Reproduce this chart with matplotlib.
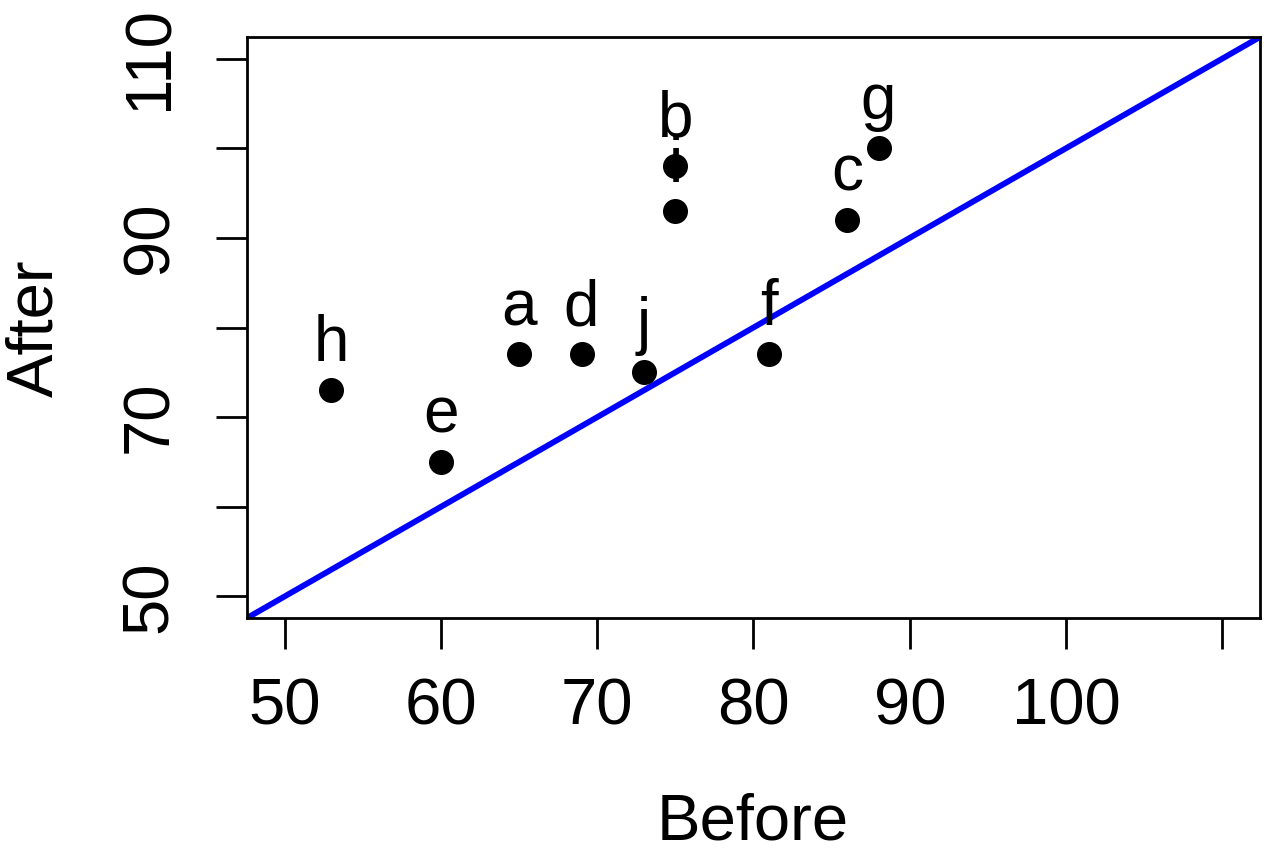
import matplotlib
matplotlib.use("Agg")
import matplotlib.pyplot as plt

plt.rcParams["font.family"] = ["Liberation Sans", "DejaVu Sans"]

# values
labels = ["a", "b", "c", "d", "e", "f", "g", "h", "i", "j"]
before = [65, 75, 86, 69, 60, 81, 88, 53, 75, 73]
after = [77, 98, 92, 77, 65, 77, 100, 73, 93, 75]

tick_vals = [50, 60, 70, 80, 90, 100, 110]
x_ticklabels = ["50", "60", "70", "80", "90", "100", ""]
y_ticklabels = ["50", "", "70", "", "90", "", "110"]

lo, hi = 47.6, 112.4
fs = 47

fig = plt.figure(figsize=(12.7, 8.58), dpi=100)
ax = fig.add_axes([247 / 1270, 1 - 618 / 858, (1260 - 247) / 1270, (618 - 37) / 858])

ax.plot(before, after, "o", color="black", markersize=17, zorder=3)
for lab, x, y in zip(labels, before, after):
    ax.annotate(lab, (x, y), xytext=(0, 21), textcoords="offset points",
                ha="center", va="baseline", fontsize=fs - 1, color="black", zorder=4)

ax.plot([lo, hi], [lo, hi], color="blue", linewidth=4.2, zorder=2, solid_capstyle="butt")

ax.set_xlim(lo, hi)
ax.set_ylim(lo, hi)
ax.set_xticks(tick_vals)
ax.set_xticklabels(x_ticklabels)
ax.set_yticks(tick_vals)
ax.set_yticklabels(y_ticklabels, rotation=90, va="center")
ax.tick_params(axis="both", length=22, width=2, labelsize=fs)
ax.tick_params(axis="x", pad=21)
ax.tick_params(axis="y", pad=26)

for s in ax.spines.values():
    s.set_linewidth(2)

fig.text(753 / 1270, 1 - 822 / 858, "Before", fontsize=fs, ha="center", va="center")
fig.text(35 / 1270, 1 - 328 / 858, "After", fontsize=fs, ha="center", va="center", rotation=90)

fig.savefig("out.png", dpi=100)
